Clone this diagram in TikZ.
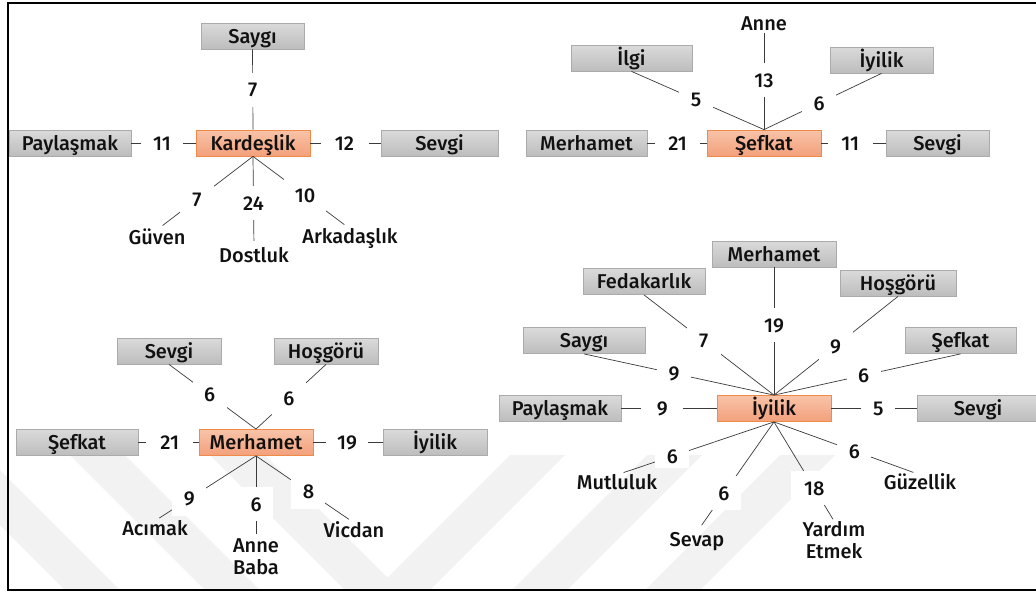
\documentclass[tikz,border=0pt]{standalone}
\usepackage{fontspec}
\setmainfont{Fira Sans}[UprightFont={* Medium}]
\definecolor{gtop}{HTML}{DADADA}
\definecolor{gbot}{HTML}{BDBDBD}
\definecolor{boxline}{HTML}{ABABAB}
\definecolor{otop}{HTML}{F8C3A8}
\definecolor{obot}{HTML}{F3A07B}
\definecolor{oline}{HTML}{EE8A4A}
\definecolor{lin}{HTML}{3A3A3A}
\definecolor{txt}{HTML}{111111}
\definecolor{wmark}{HTML}{F2F2F2}
\begin{document}
\begin{tikzpicture}[x=1pt,y=-1pt,
  every node/.style={font=\fontsize{20}{22}\selectfont, text=txt},
  gbox/.style={draw=boxline, line width=0.8pt, top color=gtop, bottom color=gbot,
    minimum height=26pt, inner sep=0pt, text height=14pt, text depth=0pt},
  obox/.style={draw=oline, line width=0.8pt, top color=otop, bottom color=obot,
    minimum height=26pt, minimum width=114pt, inner sep=0pt, text height=14pt, text depth=0pt},
  leaf/.style={inner sep=0pt, text height=14pt, text depth=0pt},
  leaftwo/.style={inner sep=0pt, align=center, anchor=north},
  num/.style={fill=white, inner xsep=11pt, inner ysep=0pt, minimum width=34pt,
    minimum height=34pt, text height=14pt, text depth=0pt},
  conn/.style={draw=lin, line width=0.7pt},
  stripe/.style={fill=wmark},
]
\useasboundingbox (0,0) rectangle (1036,592);

% faint chevron stripes in the lower half
\foreach \a in {510,647,780}
  \fill[stripe] (\a,455) -- (\a+55,455) -- (\a+55-135,590) -- (\a-135,590) -- cycle;
\foreach \a in {-70,70,210}
  \fill[stripe] (\a,455) -- (\a+55,455) -- (\a+55+135,590) -- (\a+135,590) -- cycle;

% frame
\draw[line width=2pt] (1050,3) -- (8,3) -- (8,590) -- (1050,590);

% ---- Kardeşlik ----
\node[obox] (kar) at (253,143) {Kardeşlik};
\node[gbox, minimum width=103pt] (kar-say) at (252.5,36) {Saygı};
\node[gbox, minimum width=122pt] (kar-pay) at (70,143) {Paylaşmak};
\node[gbox, minimum width=117pt] (kar-sev) at (439.5,143) {Sevgi};
\node[leaf] (kar-guv) at (157,237) {Güven};
\node[leaf] (kar-dos) at (254,255) {Dostluk};
\node[leaf] (kar-ark) at (350,236) {Arkadaşlık};
\draw[conn] (kar.north) -- node[num,pos=.494] (kar-n1) {7} (kar-say.south);
\draw[conn] (kar.west) -- node[num,pos=.523,minimum width=42pt] (kar-n2) {11} (kar-pay.east);
\draw[conn] (kar.east) -- node[num,pos=.486,minimum width=48pt] (kar-n3) {12} (kar-sev.west);
\draw[conn,shorten >=7pt] (kar.south) -- node[num,pos=.583] (kar-n4) {7} (kar-guv.north);
\draw[conn,shorten >=7pt] (kar.south) -- node[num,pos=.51] (kar-n5) {24} (kar-dos.north);
\draw[conn,shorten >=7pt] (kar.south) -- node[num,pos=.536] (kar-n6) {10} (kar-ark.north);

% ---- Şefkat ----
\node[obox] (sef) at (764,143) {Şefkat};
\node[gbox, minimum width=121pt] (sef-ilg) at (631.5,58) {İlgi};
\node[leaf] (sef-ann) at (764,23) {Anne};
\node[gbox, minimum width=103pt] (sef-iyi) at (881.5,60) {İyilik};
\node[gbox, minimum width=121pt] (sef-mer) at (586.5,143) {Merhamet};
\node[gbox, minimum width=103pt] (sef-sev) at (937.5,143) {Sevgi};
\draw[conn] (sef.north) -- node[num,pos=.513] (sef-n1) {5} (sef-ilg.south);
\draw[conn,shorten >=3pt] (sef.north) -- node[num,pos=.495] (sef-n2) {13} (sef-ann.south);
\draw[conn] (sef.north) -- node[num,pos=.468] (sef-n3) {6} (sef-iyi.south);
\draw[conn] (sef.west) -- node[num,pos=.49,minimum width=45pt] (sef-n4) {21} (sef-mer.east);
\draw[conn] (sef.east) -- node[num,pos=.45,minimum width=45pt] (sef-n5) {11} (sef-sev.west);

% ---- Merhamet ----
\node[obox] (mer) at (256,442.5) {Merhamet};
\node[gbox, minimum width=104pt] (mer-sev) at (169,351) {Sevgi};
\node[gbox, minimum width=104pt] (mer-hos) at (326,351) {Hoşgörü};
\node[gbox, minimum width=122pt] (mer-sef) at (77,442.5) {Şefkat};
\node[gbox, minimum width=104pt] (mer-iyi) at (435,442.5) {İyilik};
\node[leaf] (mer-aci) at (155,528) {Acımak};
\node[leaftwo] (mer-ann) at (256,538) {Anne\\Baba};
\node[leaf] (mer-vic) at (354,530) {Vicdan};
\draw[conn] (mer.north) -- node[num,pos=.534] (mer-n1) {6} (mer-sev.south);
\draw[conn] (mer.north) -- node[num,pos=.47] (mer-n2) {6} (mer-hos.south);
\draw[conn] (mer.west) -- node[num,pos=.48,minimum width=47pt] (mer-n3) {21} (mer-sef.east);
\draw[conn] (mer.east) -- node[num,pos=.486,minimum width=42pt] (mer-n4) {19} (mer-iyi.west);
\draw[conn,shorten >=5pt] (mer.south) -- node[num,pos=.66] (mer-n5) {9} (mer-aci.north);
\draw[conn,shorten >=4pt] (mer.south) -- node[num,pos=.59] (mer-n6) {6} (mer-ann.north);
\draw[conn,shorten >=6pt] (mer.south) -- node[num,pos=.535] (mer-n7) {8} (mer-vic.north);

% ---- İyilik ----
\node[obox] (iyi) at (774,408.5) {İyilik};
\node[gbox, minimum width=124pt] (iyi-mer) at (774,254) {Merhamet};
\node[gbox, minimum width=122pt] (iyi-fed) at (644,281.5) {Fedakarlık};
\node[gbox, minimum width=122pt] (iyi-say) at (584,340.5) {Saygı};
\node[gbox, minimum width=122pt] (iyi-pay) at (560,408.5) {Paylaşmak};
\node[gbox, minimum width=116pt] (iyi-hos) at (898,283) {Hoşgörü};
\node[gbox, minimum width=111pt] (iyi-sef) at (960.5,340.5) {Şefkat};
\node[gbox, minimum width=122pt] (iyi-sev) at (978,408.5) {Sevgi};
\node[leaf] (iyi-mut) at (617,482) {Mutluluk};
\node[leaf] (iyi-svp) at (697,539) {Sevap};
\node[leaftwo] (iyi-yar) at (834,521) {Yardım\\Etmek};
\node[leaf] (iyi-guz) at (920,482) {Güzellik};
\draw[conn] (iyi.north) -- node[num,pos=.547] (iyi-n1) {19} (iyi-mer.south);
\draw[conn] (iyi.north) -- node[num,pos=.54] (iyi-n2) {7} (iyi-fed.south);
\draw[conn] (iyi.north) -- node[num,pos=.526] (iyi-n3) {9} (iyi-say.south);
\draw[conn] (iyi.west) -- node[num,pos=.57,minimum width=42pt] (iyi-n4) {9} (iyi-pay.east);
\draw[conn] (iyi.north) -- node[num,pos=.496] (iyi-n5) {9} (iyi-hos.south);
\draw[conn] (iyi.north) -- node[num,pos=.48] (iyi-n6) {6} (iyi-sef.south);
\draw[conn] (iyi.east) -- node[num,pos=.55] (iyi-n7) {5} (iyi-sev.west);
\draw[conn,shorten >=7pt] (iyi.south) -- node[num,pos=.647,minimum height=24pt] (iyi-n8) {6} (iyi-mut.north);
\draw[conn,shorten >=8pt] (iyi.south) -- node[num,pos=.65] (iyi-n9) {6} (iyi-svp.north);
\draw[conn,shorten >=2pt] (iyi.south) -- node[num,pos=.67,minimum width=46pt] (iyi-n10) {18} (iyi-yar.north);
\draw[conn,shorten >=7pt] (iyi.south) -- node[num,pos=.55] (iyi-n11) {6} (iyi-guz.north);
\end{tikzpicture}
\end{document}
